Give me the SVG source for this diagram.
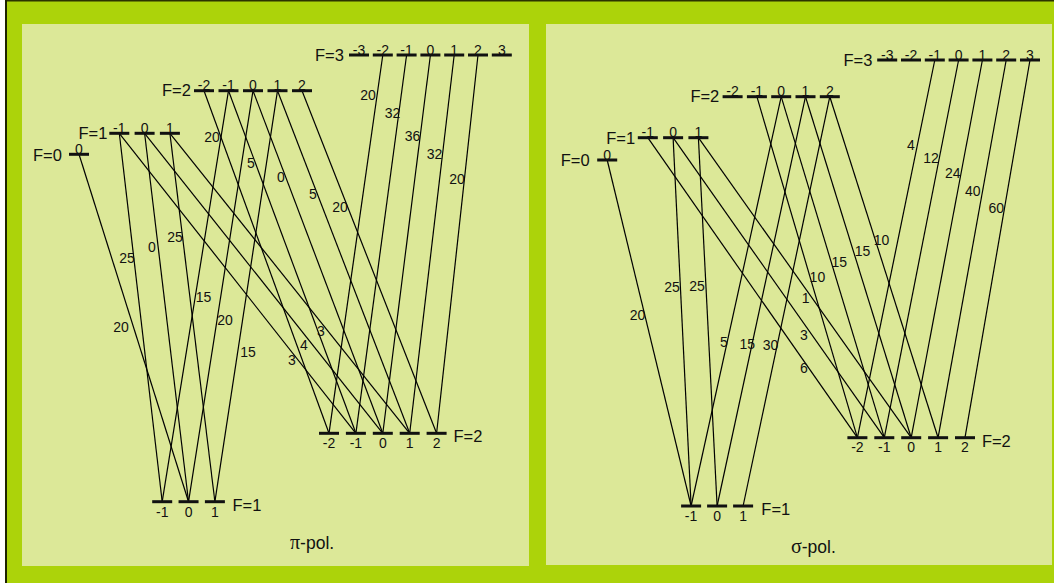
<svg xmlns="http://www.w3.org/2000/svg" width="1054" height="583" viewBox="0 0 1054 583">
<style>
.frame{fill:#acd30a}
.panel{fill:#dce898}
.bar{fill:#111}
.tr{stroke:#000;stroke-width:1.2;fill:none}
.lvl{font-family:"Liberation Sans",Arial,sans-serif;font-size:16.5px;fill:#111}
.sub{font-family:"Liberation Sans",Arial,sans-serif;font-size:14px;fill:#111;text-anchor:middle}
.num{font-family:"Liberation Sans",Arial,sans-serif;font-size:14px;fill:#111;text-anchor:middle}
.pol{font-family:"Liberation Sans",Arial,sans-serif;font-size:17.5px;fill:#111}
.greek{font-family:"Liberation Serif","Times New Roman",serif;font-size:20px}
</style>
<rect x="0" y="0" width="1054" height="583" fill="#ffffff"/>
<rect class="frame" x="6" y="0" width="1048" height="583"/>
<line x1="6" y1="0.7" x2="1054" y2="0.7" stroke="#2b3300" stroke-width="1.5"/>
<line x1="6" y1="0" x2="6" y2="583" stroke="#1e2400" stroke-width="2"/>
<rect class="panel" x="22" y="24" width="507" height="542"/>
<rect class="panel" x="546" y="24" width="506" height="541"/>

<g id="connectors">
<!-- pi-pol -->
<line class="tr" x1="79" y1="154.3" x2="188.55" y2="501.7"/>
<line class="tr" x1="119.3" y1="133.3" x2="162.2" y2="501.7"/>
<line class="tr" x1="144.6" y1="133.3" x2="188.55" y2="501.7"/>
<line class="tr" x1="169.9" y1="133.3" x2="214.9" y2="501.7"/>
<line class="tr" x1="119.3" y1="133.3" x2="355.9" y2="433.3"/>
<line class="tr" x1="144.6" y1="133.3" x2="382.8" y2="433.3"/>
<line class="tr" x1="169.9" y1="133.3" x2="409.7" y2="433.3"/>
<line class="tr" x1="204" y1="90.7" x2="329" y2="433.3"/>
<line class="tr" x1="228.5" y1="90.7" x2="162.2" y2="501.7"/>
<line class="tr" x1="228.5" y1="90.7" x2="355.9" y2="433.3"/>
<line class="tr" x1="253" y1="90.7" x2="188.55" y2="501.7"/>
<line class="tr" x1="253" y1="90.7" x2="382.8" y2="433.3"/>
<line class="tr" x1="277.5" y1="90.7" x2="214.9" y2="501.7"/>
<line class="tr" x1="277.5" y1="90.7" x2="409.7" y2="433.3"/>
<line class="tr" x1="302" y1="90.7" x2="436.6" y2="433.3"/>
<line class="tr" x1="382.8" y1="55" x2="329" y2="433.3"/>
<line class="tr" x1="406.6" y1="55" x2="355.9" y2="433.3"/>
<line class="tr" x1="430.4" y1="55" x2="382.8" y2="433.3"/>
<line class="tr" x1="454.2" y1="55" x2="409.7" y2="433.3"/>
<line class="tr" x1="478" y1="55" x2="436.6" y2="433.3"/>
<!-- sigma-pol -->
<line class="tr" x1="607.2" y1="160" x2="691.1" y2="506"/>
<line class="tr" x1="673.1" y1="137.7" x2="691.1" y2="506"/>
<line class="tr" x1="698.4" y1="137.7" x2="717.1" y2="506"/>
<line class="tr" x1="647.8" y1="137.7" x2="857.4" y2="437.7"/>
<line class="tr" x1="673.1" y1="137.7" x2="884.3" y2="437.7"/>
<line class="tr" x1="698.4" y1="137.7" x2="911.2" y2="437.7"/>
<line class="tr" x1="781.2" y1="96.7" x2="691.1" y2="506"/>
<line class="tr" x1="805.5" y1="96.7" x2="717.1" y2="506"/>
<line class="tr" x1="829.8" y1="96.7" x2="743.1" y2="506"/>
<line class="tr" x1="756.9" y1="96.7" x2="857.4" y2="437.7"/>
<line class="tr" x1="781.2" y1="96.7" x2="884.3" y2="437.7"/>
<line class="tr" x1="805.5" y1="96.7" x2="911.2" y2="437.7"/>
<line class="tr" x1="829.8" y1="96.7" x2="938.1" y2="437.7"/>
<line class="tr" x1="934.8" y1="60" x2="857.4" y2="437.7"/>
<line class="tr" x1="958.6" y1="60" x2="884.3" y2="437.7"/>
<line class="tr" x1="982.4" y1="60" x2="911.2" y2="437.7"/>
<line class="tr" x1="1006.2" y1="60" x2="938.1" y2="437.7"/>
<line class="tr" x1="1030" y1="60" x2="965" y2="437.7"/>
</g>

<g id="connector-labels">
<text class="num" x="121" y="332">20</text>
<text class="num" x="127" y="263">25</text>
<text class="num" x="152" y="252">0</text>
<text class="num" x="175" y="242">25</text>
<text class="num" x="292" y="365">3</text>
<text class="num" x="304" y="350">4</text>
<text class="num" x="321" y="336">3</text>
<text class="num" x="212" y="142">20</text>
<text class="num" x="251" y="168">5</text>
<text class="num" x="281" y="182">0</text>
<text class="num" x="313" y="199">5</text>
<text class="num" x="340" y="212">20</text>
<text class="num" x="203.5" y="302">15</text>
<text class="num" x="225" y="325">20</text>
<text class="num" x="248" y="357">15</text>
<text class="num" x="368" y="100">20</text>
<text class="num" x="392.5" y="118">32</text>
<text class="num" x="412.5" y="141">36</text>
<text class="num" x="434.5" y="159">32</text>
<text class="num" x="457" y="184">20</text>

<text class="num" x="637.6" y="320">20</text>
<text class="num" x="672" y="291.5">25</text>
<text class="num" x="697" y="291">25</text>
<text class="num" x="724" y="347">5</text>
<text class="num" x="747.2" y="349">15</text>
<text class="num" x="770.6" y="350">30</text>
<text class="num" x="805.7" y="303">1</text>
<text class="num" x="804" y="340">3</text>
<text class="num" x="804" y="373">6</text>
<text class="num" x="817.4" y="281.5">10</text>
<text class="num" x="839.2" y="267">15</text>
<text class="num" x="862.6" y="255.5">15</text>
<text class="num" x="881.6" y="245">10</text>
<text class="num" x="911" y="150">4</text>
<text class="num" x="931" y="163">12</text>
<text class="num" x="952.8" y="178">24</text>
<text class="num" x="972.8" y="196">40</text>
<text class="num" x="996.2" y="213">60</text>
</g>

<!-- pi-pol panel levels -->
<g id="pi-F3-upper">
<text class="lvl" x="315" y="60.5">F=3</text>
<text class="sub" x="359" y="54.5">-3</text><text class="sub" x="382.8" y="54.5">-2</text><text class="sub" x="406.6" y="54.5">-1</text><text class="sub" x="430.4" y="54.5">0</text><text class="sub" x="454.2" y="54.5">1</text><text class="sub" x="478" y="54.5">2</text><text class="sub" x="501.8" y="54.5">3</text>
<rect class="bar" x="349" y="53.5" width="20" height="3"/><rect class="bar" x="372.8" y="53.5" width="20" height="3"/><rect class="bar" x="396.6" y="53.5" width="20" height="3"/><rect class="bar" x="420.4" y="53.5" width="20" height="3"/><rect class="bar" x="444.2" y="53.5" width="20" height="3"/><rect class="bar" x="468" y="53.5" width="20" height="3"/><rect class="bar" x="491.8" y="53.5" width="20" height="3"/>
</g>
<g id="pi-F2-upper">
<text class="lvl" x="162" y="96">F=2</text>
<text class="sub" x="204" y="90.2">-2</text><text class="sub" x="228.5" y="90.2">-1</text><text class="sub" x="253" y="90.2">0</text><text class="sub" x="277.5" y="90.2">1</text><text class="sub" x="302" y="90.2">2</text>
<rect class="bar" x="194" y="89.2" width="20" height="3"/><rect class="bar" x="218.5" y="89.2" width="20" height="3"/><rect class="bar" x="243" y="89.2" width="20" height="3"/><rect class="bar" x="267.5" y="89.2" width="20" height="3"/><rect class="bar" x="292" y="89.2" width="20" height="3"/>
</g>
<g id="pi-F1-upper">
<text class="lvl" x="78.5" y="139">F=1</text>
<text class="sub" x="119.3" y="132.8">-1</text><text class="sub" x="144.6" y="132.8">0</text><text class="sub" x="169.9" y="132.8">1</text>
<rect class="bar" x="109.3" y="131.8" width="20" height="3"/><rect class="bar" x="134.6" y="131.8" width="20" height="3"/><rect class="bar" x="159.9" y="131.8" width="20" height="3"/>
</g>
<g id="pi-F0-upper">
<text class="lvl" x="33" y="160.5">F=0</text>
<text class="sub" x="79" y="153.8">0</text>
<rect class="bar" x="69" y="152.8" width="20" height="3"/>
</g>
<g id="pi-F2-lower">
<rect class="bar" x="319" y="431.8" width="20" height="3"/><rect class="bar" x="345.9" y="431.8" width="20" height="3"/><rect class="bar" x="372.8" y="431.8" width="20" height="3"/><rect class="bar" x="399.7" y="431.8" width="20" height="3"/><rect class="bar" x="426.6" y="431.8" width="20" height="3"/>
<text class="sub" x="329" y="448">-2</text><text class="sub" x="355.9" y="448">-1</text><text class="sub" x="382.8" y="448">0</text><text class="sub" x="409.7" y="448">1</text><text class="sub" x="436.6" y="448">2</text>
<text class="lvl" x="453.5" y="442">F=2</text>
</g>
<g id="pi-F1-lower">
<rect class="bar" x="152.2" y="500.2" width="20" height="3"/><rect class="bar" x="178.55" y="500.2" width="20" height="3"/><rect class="bar" x="204.9" y="500.2" width="20" height="3"/>
<text class="sub" x="162.2" y="517">-1</text><text class="sub" x="188.55" y="517">0</text><text class="sub" x="214.9" y="517">1</text>
<text class="lvl" x="232.5" y="510.5">F=1</text>
</g>
<text class="pol" x="290" y="548.5"><tspan class="greek">π</tspan>-pol.</text>

<!-- sigma-pol panel levels -->
<g id="sigma-F3-upper">
<text class="lvl" x="843.5" y="65.5">F=3</text>
<text class="sub" x="887.2" y="59.5">-3</text><text class="sub" x="911" y="59.5">-2</text><text class="sub" x="934.8" y="59.5">-1</text><text class="sub" x="958.6" y="59.5">0</text><text class="sub" x="982.4" y="59.5">1</text><text class="sub" x="1006.2" y="59.5">2</text><text class="sub" x="1030" y="59.5">3</text>
<rect class="bar" x="877.2" y="58.5" width="20" height="3"/><rect class="bar" x="901" y="58.5" width="20" height="3"/><rect class="bar" x="924.8" y="58.5" width="20" height="3"/><rect class="bar" x="948.6" y="58.5" width="20" height="3"/><rect class="bar" x="972.4" y="58.5" width="20" height="3"/><rect class="bar" x="996.2" y="58.5" width="20" height="3"/><rect class="bar" x="1020" y="58.5" width="20" height="3"/>
</g>
<g id="sigma-F2-upper">
<text class="lvl" x="690.4" y="102">F=2</text>
<text class="sub" x="732.6" y="96.2">-2</text><text class="sub" x="756.9" y="96.2">-1</text><text class="sub" x="781.2" y="96.2">0</text><text class="sub" x="805.5" y="96.2">1</text><text class="sub" x="829.8" y="96.2">2</text>
<rect class="bar" x="722.6" y="95.2" width="20" height="3"/><rect class="bar" x="746.9" y="95.2" width="20" height="3"/><rect class="bar" x="771.2" y="95.2" width="20" height="3"/><rect class="bar" x="795.5" y="95.2" width="20" height="3"/><rect class="bar" x="819.8" y="95.2" width="20" height="3"/>
</g>
<g id="sigma-F1-upper">
<text class="lvl" x="606.2" y="143.5">F=1</text>
<text class="sub" x="647.8" y="137.2">-1</text><text class="sub" x="673.1" y="137.2">0</text><text class="sub" x="698.4" y="137.2">1</text>
<rect class="bar" x="637.8" y="136.2" width="20" height="3"/><rect class="bar" x="663.1" y="136.2" width="20" height="3"/><rect class="bar" x="688.4" y="136.2" width="20" height="3"/>
</g>
<g id="sigma-F0-upper">
<text class="lvl" x="560.7" y="165.5">F=0</text>
<text class="sub" x="607.2" y="159.5">0</text>
<rect class="bar" x="597.2" y="158.5" width="20" height="3"/>
</g>
<g id="sigma-F2-lower">
<rect class="bar" x="847.4" y="436.2" width="20" height="3"/><rect class="bar" x="874.3" y="436.2" width="20" height="3"/><rect class="bar" x="901.2" y="436.2" width="20" height="3"/><rect class="bar" x="928.1" y="436.2" width="20" height="3"/><rect class="bar" x="955" y="436.2" width="20" height="3"/>
<text class="sub" x="857.4" y="452">-2</text><text class="sub" x="884.3" y="452">-1</text><text class="sub" x="911.2" y="452">0</text><text class="sub" x="938.1" y="452">1</text><text class="sub" x="965" y="452">2</text>
<text class="lvl" x="981.9" y="446.5">F=2</text>
</g>
<g id="sigma-F1-lower">
<rect class="bar" x="681.1" y="504.5" width="20" height="3"/><rect class="bar" x="707.1" y="504.5" width="20" height="3"/><rect class="bar" x="733.1" y="504.5" width="20" height="3"/>
<text class="sub" x="691.1" y="521">-1</text><text class="sub" x="717.1" y="521">0</text><text class="sub" x="743.1" y="521">1</text>
<text class="lvl" x="761.3" y="514.5">F=1</text>
</g>
<text class="pol" x="791" y="552.5"><tspan class="greek">σ</tspan>-pol.</text>
</svg>
